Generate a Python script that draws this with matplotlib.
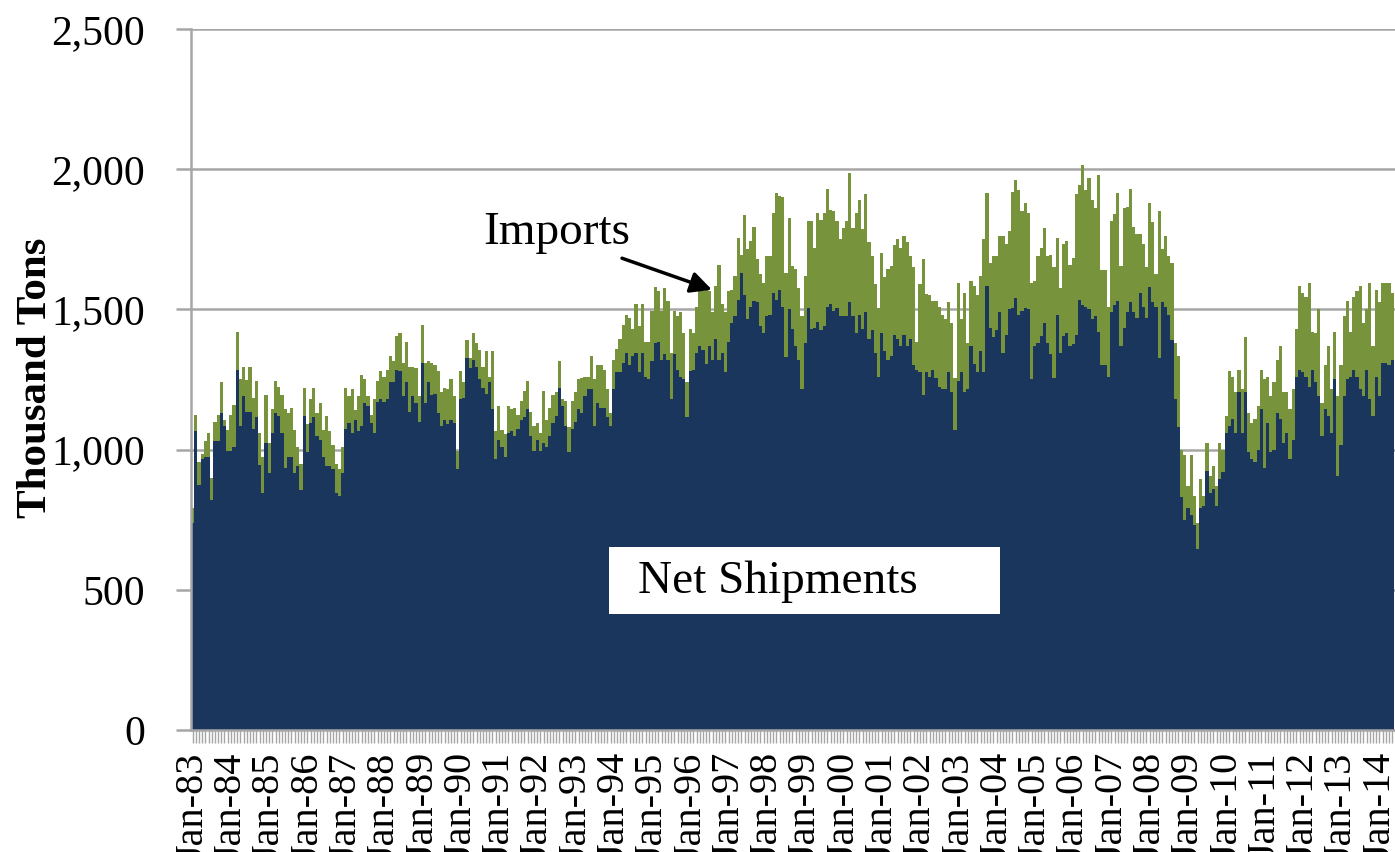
import matplotlib.pyplot as plt
from matplotlib.patches import Rectangle
import numpy as np

plt.rcParams['font.family'] = ['Liberation Serif', 'DejaVu Serif']

# monthly values, Jan-83 onwards (thousand tons)
net_shipments = [
    740, 1065, 875, 965, 975, 975, 820, 1030, 1030, 1130, 1085, 995,
    995, 1010, 1285, 1085, 1190, 1135, 1135, 1075, 1115, 945, 845, 1025,
    915, 1060, 1130, 1120, 1060, 935, 975, 975, 915, 940, 855, 1120,
    990, 1095, 1115, 1050, 1035, 975, 940, 940, 930, 845, 835, 915,
    1075, 1095, 1060, 1105, 1065, 1085, 1165, 1155, 1095, 1060, 1170, 1180,
    1170, 1180, 1240, 1240, 1285, 1280, 1190, 1240, 1135, 1190, 1165, 1100,
    1310, 1165, 1240, 1195, 1200, 1130, 1085, 1105, 1090, 1105, 1095, 930,
    1180, 1185, 1325, 1290, 1320, 1295, 1250, 1220, 1200, 1240, 1145, 965,
    1035, 1010, 975, 1060, 1065, 1050, 1075, 1105, 1115, 1145, 1050, 995,
    1035, 995, 1025, 1010, 1050, 1095, 1120, 1220, 1155, 1085, 990, 1075,
    1100, 1145, 1130, 1190, 1215, 1215, 1085, 1165, 1150, 1150, 1115, 1085,
    1215, 1275, 1275, 1310, 1345, 1300, 1335, 1345, 1275, 1345, 1260, 1250,
    1315, 1380, 1385, 1320, 1340, 1320, 1180, 1340, 1285, 1260, 1250, 1115,
    1280, 1285, 1345, 1370, 1355, 1305, 1370, 1320, 1395, 1320, 1345, 1275,
    1385, 1450, 1475, 1535, 1630, 1550, 1465, 1510, 1530, 1525, 1440, 1415,
    1475, 1480, 1560, 1535, 1570, 1510, 1330, 1500, 1430, 1370, 1320, 1215,
    1380, 1505, 1430, 1435, 1455, 1425, 1440, 1510, 1520, 1495, 1505, 1475,
    1475, 1475, 1525, 1475, 1415, 1480, 1430, 1490, 1395, 1425, 1345, 1260,
    1415, 1350, 1320, 1335, 1410, 1395, 1370, 1410, 1370, 1395, 1300, 1285,
    1275, 1195, 1275, 1260, 1285, 1255, 1225, 1215, 1215, 1275, 1205, 1070,
    1245, 1275, 1205, 1215, 1370, 1305, 1275, 1350, 1275, 1585, 1435, 1400,
    1425, 1490, 1345, 1410, 1500, 1505, 1540, 1480, 1495, 1505, 1500, 1250,
    1370, 1380, 1405, 1450, 1380, 1340, 1255, 1480, 1345, 1405, 1415, 1370,
    1375, 1410, 1535, 1515, 1510, 1500, 1465, 1475, 1420, 1300, 1300, 1260,
    1490, 1515, 1530, 1370, 1435, 1490, 1525, 1490, 1470, 1560, 1510, 1470,
    1580, 1525, 1510, 1325, 1525, 1510, 1480, 1390, 1180, 1080, 830, 750,
    790, 765, 730, 645, 790, 800, 925, 845, 860, 800, 895, 920,
    1060, 1085, 1110, 1060, 1205, 1060, 1205, 990, 965, 955, 1000, 1145,
    935, 1095, 990, 1000, 1130, 1110, 1025, 1060, 965, 1035, 1260, 1285,
    1275, 1260, 1225, 1285, 1240, 1190, 1050, 1145, 1120, 1060, 1250, 905,
    1015, 1190, 1250, 1260, 1285, 1260, 1215, 1190, 1285, 1180, 1120, 1260,
    1190, 1310, 1310, 1300, 1320,
]

imports = [
    50, 60, 80, 20, 55, 85, 80, 70, 95, 110, 20, 75,
    130, 150, 135, 165, 105, 115, 160, 110, 130, 115, 130, 170,
    110, 85, 115, 105, 135, 210, 155, 175, 155, 70, 95, 100,
    100, 85, 105, 80, 130, 95, 180, 125, 85, 105, 95, 95,
    145, 95, 155, 35, 125, 180, 85, 35, 30, 120, 75, 100,
    90, 105, 95, 75, 120, 135, 120, 145, 160, 105, 125, 90,
    135, 145, 75, 115, 100, 150, 120, 115, 125, 145, 95, 65,
    100, 55, 65, 35, 95, 85, 105, 75, 150, 20, 205, 100,
    120, 60, 80, 95, 80, 100, 50, 70, 95, 100, 85, 90,
    60, 65, 185, 95, 100, 100, 85, 95, 25, 90, 90, 100,
    105, 105, 125, 70, 45, 120, 165, 135, 150, 135, 100, 45,
    105, 85, 120, 135, 135, 170, 95, 175, 165, 175, 125, 135,
    180, 200, 180, 175, 235, 210, 165, 155, 190, 230, 165, 125,
    150, 130, 165, 215, 210, 280, 195, 170, 190, 340, 175, 215,
    180, 120, 145, 220, 65, 285, 250, 235, 265, 155, 185, 180,
    215, 210, 285, 380, 335, 390, 300, 325, 225, 275, 255, 260,
    240, 310, 385, 285, 390, 395, 405, 420, 335, 355, 310, 275,
    315, 340, 460, 315, 430, 410, 355, 420, 345, 265, 245, 245,
    285, 265, 325, 320, 320, 355, 350, 350, 370, 295, 350, 100,
    315, 485, 280, 290, 245, 275, 285, 265, 250, 250, 245, 185,
    350, 190, 355, 165, 230, 280, 275, 270, 475, 330, 230, 290,
    265, 270, 415, 325, 280, 415, 420, 445, 355, 375, 345, 345,
    230, 310, 315, 340, 310, 355, 395, 275, 230, 330, 330, 290,
    310, 500, 410, 500, 415, 470, 425, 385, 560, 340, 340, 250,
    325, 325, 385, 285, 425, 375, 405, 305, 300, 210, 225, 180,
    300, 285, 115, 525, 190, 250, 210, 275, 200, 255, 170, 230,
    80, 215, 105, 95, 105, 35, 100, 60, 80, 70, 130, 80,
    60, 195, 150, 145, 80, 155, 195, 140, 130, 155, 155, 140,
    315, 165, 200, 240, 190, 260, 180, 145, 180, 180, 170, 300,
    285, 285, 370, 135, 175, 310, 115, 155, 250, 155, 170, 285,
    285, 285, 280, 160, 260, 305, 370, 260, 215, 415, 250, 310,
    335, 285, 285, 295, 240,
]

tick_labels = ['Jan-83', 'Jan-84', 'Jan-85', 'Jan-86', 'Jan-87', 'Jan-88',
               'Jan-89', 'Jan-90', 'Jan-91', 'Jan-92', 'Jan-93', 'Jan-94',
               'Jan-95', 'Jan-96', 'Jan-97', 'Jan-98', 'Jan-99', 'Jan-00',
               'Jan-01', 'Jan-02', 'Jan-03', 'Jan-04', 'Jan-05', 'Jan-06',
               'Jan-07', 'Jan-08', 'Jan-09', 'Jan-10', 'Jan-11', 'Jan-12',
               'Jan-13', 'Jan-14']

navy = '#1A365D'
green = '#77933C'
grey = '#A6A6A6'

fig = plt.figure(figsize=(13.95, 8.52), dpi=100)
ax = fig.add_axes([191 / 1395, 122 / 852, 1204 / 1395, 701 / 852])

x = np.arange(len(net_shipments))
ax.bar(x, net_shipments, width=1.0, color=navy, linewidth=0)
ax.bar(x, imports, bottom=net_shipments, width=1.0, color=green, linewidth=0)

ax.set_xlim(-0.5, 376.9)
ax.set_ylim(0, 2500)

yt = np.arange(0, 2501, 500)
ax.set_yticks(yt)
ax.set_yticklabels([f'{v:,}' for v in yt], fontsize=30)
ax.yaxis.grid(True, color=grey, linewidth=1.8)
ax.set_axisbelow(True)

ax.set_xticks(np.arange(len(tick_labels)) * 12)
ax.set_xticklabels(tick_labels, rotation=90, fontsize=29, va='top')
ax.set_xticks(x, minor=True)
ax.tick_params(axis='x', which='both', length=9, width=1, color=grey, pad=7)
ax.tick_params(axis='y', length=11, width=1.8, color=grey, pad=22)

for s in ['top', 'right']:
    ax.spines[s].set_visible(False)
for s in ['left', 'bottom']:
    ax.spines[s].set_color(grey)
    ax.spines[s].set_linewidth(1.8)

ax.set_ylabel('Thousand Tons', fontsize=31, fontweight='bold')
ax.yaxis.set_label_coords(-0.113, 0.502)

# annotations
ax.text(0.2425, 0.71, 'Imports', transform=ax.transAxes, fontsize=34,
        va='center', ha='left')
ax.annotate('', xy=(0.4327, 0.628), xytext=(0.358, 0.673),
            xycoords='axes fraction', textcoords='axes fraction',
            arrowprops=dict(arrowstyle='-|>', color='black', lw=2.5,
                            mutation_scale=32, shrinkA=0, shrinkB=0))

ax.add_patch(Rectangle((0.347, 0.1655), 0.325, 0.0956, transform=ax.transAxes,
                       facecolor='white', edgecolor='none', zorder=5))
ax.text(0.371, 0.212, 'Net Shipments', transform=ax.transAxes, fontsize=34,
        va='center', ha='left', zorder=6)

fig.savefig('out.png', dpi=100)
